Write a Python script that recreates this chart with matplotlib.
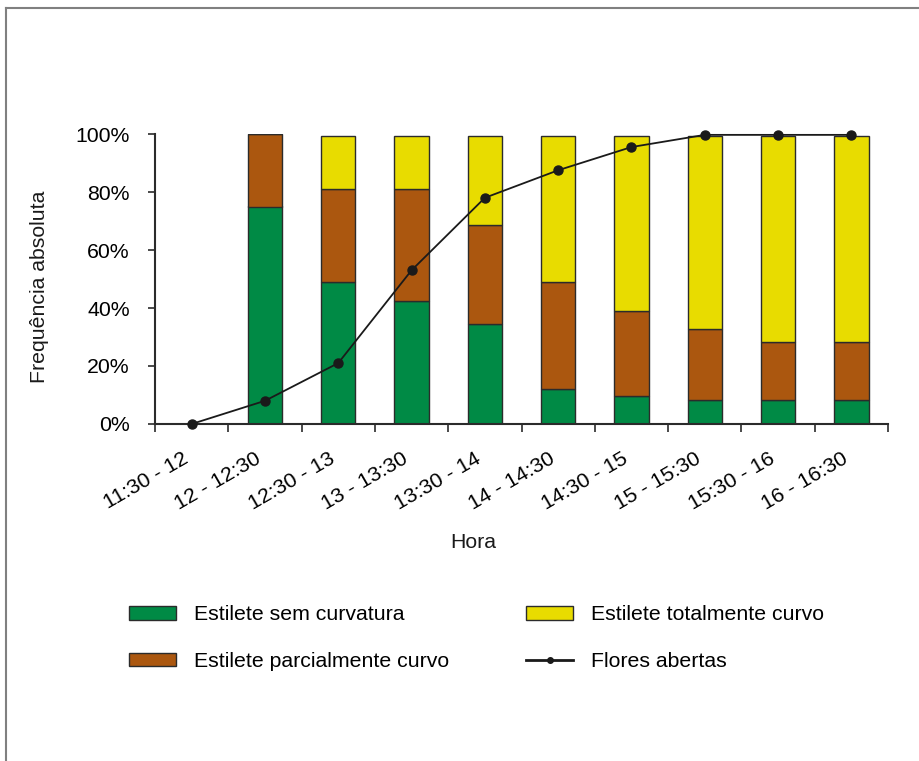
import numpy as np
import matplotlib.pyplot as plt
from matplotlib.lines import Line2D
from matplotlib.patches import Patch
from matplotlib.transforms import ScaledTranslation

plt.rcParams['font.family'] = ['Liberation Sans', 'DejaVu Sans']

horas = ["11:30 - 12", "12 - 12:30", "12:30 - 13", "13 - 13:30", "13:30 - 14",
         "14 - 14:30", "14:30 - 15", "15 - 15:30", "15:30 - 16", "16 - 16:30"]
sem_curvatura = [0, 75, 49, 42.4, 34.4, 12, 9.5, 8.2, 8.2, 8.2]
parcial_curvo = [0, 25, 32.2, 38.8, 34.3, 37, 29.5, 24.4, 20.2, 20.2]
total_curvo = [0, 0, 18.1, 18.1, 30.6, 50.3, 60.3, 66.7, 70.9, 70.9]
flores_abertas = [0, 8, 21, 53, 78, 87.5, 95.5, 99.7, 99.7, 99.7]

c_verde = "#008a45"
c_marrom = "#ab570f"
c_amarelo = "#e8dc00"
c_borda = "#2b2b2b"
fs = 15.3

fig = plt.figure(figsize=(9.2, 7.61), dpi=100)
ax = fig.add_axes([155 / 920, 1 - 424 / 761, 733 / 920, 290 / 761])

x = np.arange(len(horas))
sem = np.array(sem_curvatura)
par = np.array(parcial_curvo)
tot = np.array(total_curvo)
w = 0.47
kw = dict(width=w, edgecolor=c_borda, linewidth=1.0, zorder=2)
ax.bar(x, sem, color=c_verde, **kw)
ax.bar(x, par, bottom=sem, color=c_marrom, **kw)
ax.bar(x, tot, bottom=sem + par, color=c_amarelo, **kw)
ax.plot(x, flores_abertas, color="#1a1a1a", linewidth=1.3, marker="o",
        markersize=6.5, zorder=3, clip_on=False)

ax.set_xlim(-0.5, len(horas) - 0.5)
ax.set_ylim(0, 100)
ax.set_yticks(np.arange(0, 101, 20))
ax.set_yticklabels([f"{v}%" for v in range(0, 101, 20)], fontsize=fs)
ax.tick_params(axis="y", length=5, width=1.2, color=c_borda, pad=13)

# category labels at centres, tick marks on the boundaries
ax.set_xticks(x)
ax.set_xticks(np.arange(-0.5, len(horas)), minor=True)
ax.set_xticklabels(horas, fontsize=fs, rotation=30, ha="right",
                   rotation_mode="anchor")
ax.tick_params(axis="x", which="major", length=0, pad=18)
ax.tick_params(axis="x", which="minor", length=6, width=1.2, color=c_borda)
shift = ScaledTranslation(-10 / 100, 0, fig.dpi_scale_trans)
for lab in ax.get_xticklabels():
    lab.set_transform(lab.get_transform() + shift)

for s in ["top", "right"]:
    ax.spines[s].set_visible(False)
for s in ["left", "bottom"]:
    ax.spines[s].set_color(c_borda)
    ax.spines[s].set_linewidth(1.5)

fig.text(40 / 920, 1 - 287 / 761, "Frequência absoluta", rotation=90,
         ha="center", va="center", fontsize=fs, color="#1a1a1a")
fig.text(473 / 920, 1 - 543 / 761, "Hora", ha="center", va="center",
         fontsize=fs, color="#1a1a1a")

handles = [
    Patch(facecolor=c_verde, edgecolor=c_borda, linewidth=1.0),
    Patch(facecolor=c_marrom, edgecolor=c_borda, linewidth=1.0),
    Patch(facecolor=c_amarelo, edgecolor=c_borda, linewidth=1.0),
    Line2D([], [], color="#1a1a1a", linewidth=2, marker="o", markersize=4),
]
labels = ["Estilete sem curvatura", "Estilete parcialmente curvo",
          "Estilete totalmente curvo", "Flores abertas"]
fig.legend(handles, labels, ncol=2, frameon=False, fontsize=fs,
           loc="upper left", bbox_to_anchor=(121 / 920, 1 - 597 / 761),
           handlelength=2.2, handleheight=0.6, handletextpad=0.85,
           labelspacing=1.3, columnspacing=3.62, borderaxespad=0)

# outer frame (only top and left edges fall inside the image)
fig.add_artist(Line2D([6 / 920, 6 / 920], [0, 1 - 8 / 761],
                      transform=fig.transFigure, color="#808080", linewidth=1.5))
fig.add_artist(Line2D([6 / 920, 1], [1 - 8 / 761, 1 - 8 / 761],
                      transform=fig.transFigure, color="#808080", linewidth=1.5))

fig.savefig("out.png", dpi=100)
